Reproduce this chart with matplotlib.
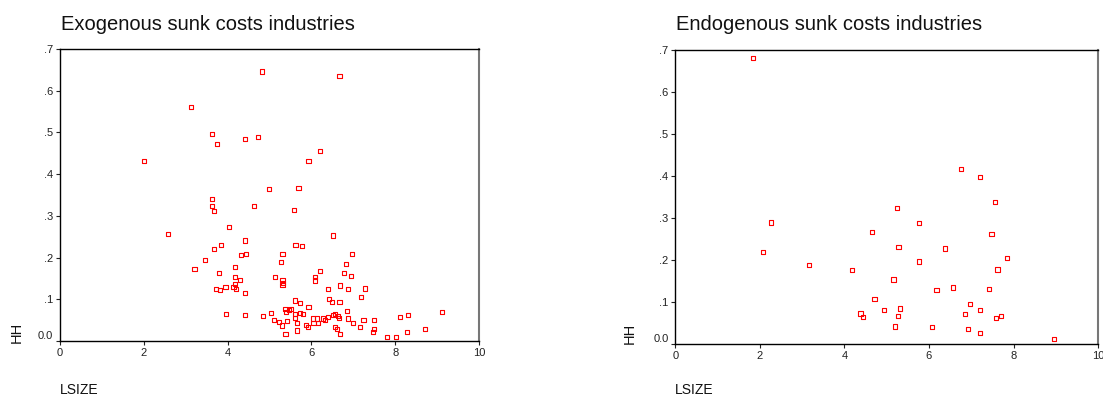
import matplotlib
matplotlib.use("Agg")
import matplotlib.pyplot as plt
import matplotlib.transforms as mtransforms

# ------------------------------------------------------------
# Dados (LSIZE x HH)
# ------------------------------------------------------------
exo_lsize = [
    4.81, 6.67, 3.13, 3.62, 3.75, 4.42, 4.73, 6.21, 2.00, 5.93,
    4.99, 5.69, 3.62, 3.62, 3.67, 4.63, 5.58, 2.57, 4.03, 6.51,
    4.41, 3.68, 3.85, 5.62, 5.77, 4.32, 4.43, 5.31, 6.96, 3.46,
    5.27, 3.21, 4.18, 6.82, 3.79, 6.21, 6.78, 4.18, 5.13, 6.08,
    6.94, 4.30, 5.31, 6.08, 5.32, 5.31, 4.18, 4.14, 3.95, 4.20,
    3.72, 3.81, 4.41, 6.39, 6.69, 6.88, 7.28, 7.19, 6.41, 6.49,
    6.67, 5.60, 5.73, 5.93, 6.84, 9.11, 3.97, 4.41, 4.84, 5.03,
    5.38, 5.52, 5.46, 5.39, 5.60, 5.73, 5.79, 5.60, 6.04, 6.14,
    6.28, 6.32, 6.39, 6.52, 6.57, 6.63, 6.65, 6.88, 7.00, 7.24,
    7.50, 8.11, 8.31, 5.11, 5.23, 5.42, 5.66, 6.05, 6.16, 5.29,
    5.87, 5.92, 6.57, 6.60, 7.15, 5.66, 5.38, 6.69, 7.50, 7.46,
    8.27, 8.70, 7.81, 8.02,
]
exo_hh = [
    0.646, 0.635, 0.561, 0.497, 0.472, 0.484, 0.489, 0.455, 0.432, 0.431,
    0.364, 0.366, 0.340, 0.323, 0.311, 0.323, 0.314, 0.257, 0.273, 0.253,
    0.241, 0.221, 0.230, 0.230, 0.228, 0.207, 0.209, 0.209, 0.209, 0.195,
    0.190, 0.173, 0.178, 0.185, 0.164, 0.168, 0.164, 0.153, 0.153, 0.153,
    0.155, 0.147, 0.147, 0.145, 0.140, 0.134, 0.137, 0.130, 0.130, 0.124,
    0.124, 0.122, 0.116, 0.124, 0.133, 0.124, 0.126, 0.105, 0.101, 0.093,
    0.093, 0.097, 0.091, 0.082, 0.072, 0.070, 0.064, 0.062, 0.060, 0.068,
    0.077, 0.077, 0.074, 0.070, 0.065, 0.067, 0.065, 0.055, 0.054, 0.054,
    0.054, 0.050, 0.058, 0.062, 0.065, 0.060, 0.055, 0.054, 0.043, 0.051,
    0.050, 0.058, 0.062, 0.050, 0.046, 0.047, 0.043, 0.043, 0.043, 0.037,
    0.039, 0.034, 0.034, 0.029, 0.033, 0.025, 0.017, 0.017, 0.029, 0.021,
    0.021, 0.029, 0.009, 0.009,
]

endo_lsize = [
    1.84, 6.75, 7.20, 7.56, 5.24, 2.27, 5.77, 4.66, 7.48, 5.28,
    6.38, 2.07, 5.76, 7.85, 3.17, 4.17, 7.62, 5.16, 6.56, 6.18,
    7.43, 4.71, 6.97, 5.32, 4.93, 7.20, 4.38, 4.44, 5.26, 6.85,
    7.59, 7.70, 5.20, 6.07, 6.93, 7.20, 8.96,
]
endo_hh = [
    0.680, 0.416, 0.397, 0.337, 0.323, 0.289, 0.288, 0.267, 0.261, 0.230,
    0.227, 0.219, 0.196, 0.205, 0.188, 0.176, 0.177, 0.153, 0.134, 0.128,
    0.130, 0.107, 0.095, 0.084, 0.080, 0.080, 0.072, 0.064, 0.066, 0.070,
    0.062, 0.066, 0.041, 0.039, 0.035, 0.025, 0.012,
]

titulos = ["Exogenous sunk costs industries", "Endogenous sunk costs industries"]
y_ticks = [0.0, 0.1, 0.2, 0.3, 0.4, 0.5, 0.6, 0.7]
y_labels = ["0.0", ".1", ".2", ".3", ".4", ".5", ".6", ".7"]
x_ticks = [0, 2, 4, 6, 8, 10]

plt.rcParams["font.family"] = ["Liberation Sans", "DejaVu Sans"]

fig = plt.figure(figsize=(11.03, 4.0), dpi=100)

# posicoes dos paineis (fracao da figura)
posicoes = [
    [0.0544, 0.1475, 0.3800, 0.7300],
    [0.6123, 0.1408, 0.3832, 0.7342],
]
dados = [(exo_lsize, exo_hh), (endo_lsize, endo_hh)]
label_x = [(0.0155, 0.17), (0.571, 0.167)]

for i, (pos, (xs, ys)) in enumerate(zip(posicoes, dados)):
    ax = fig.add_axes(pos)
    ax.scatter(xs, ys, marker="s", s=9, facecolors="none",
               edgecolors="#ff0000", linewidths=0.8, zorder=3)

    ax.set_xlim(0, 10)
    ax.set_ylim(0, 0.7)
    ax.set_xticks(x_ticks)
    ax.set_yticks(y_ticks)
    ax.set_yticklabels(y_labels)
    ax.tick_params(direction="out", length=3, width=0.8, labelsize=8,
                   colors="#222222", pad=2)

    # o rotulo 0.0 fica um pouco acima da linha base, como no original
    lbl0 = ax.get_yticklabels()[0]
    lbl0.set_transform(lbl0.get_transform() +
                       mtransforms.ScaledTranslation(0, 4 / 72, fig.dpi_scale_trans))

    for lado in ["left", "bottom", "top"]:
        ax.spines[lado].set_color("black")
        ax.spines[lado].set_linewidth(1.0)
    ax.spines["right"].set_color("#777777")
    ax.spines["right"].set_linewidth(1.5)

    fig.text(pos[0] + 0.001, 0.925, titulos[i], fontsize=14.5,
             ha="left", va="baseline", color="#111111")
    fig.text(pos[0], 0.015, "LSIZE", fontsize=10, ha="left",
             va="baseline", color="#111111")
    fig.text(label_x[i][0], label_x[i][1], "HH", fontsize=10.5,
             rotation=90, ha="center", va="center", color="#111111")

plt.savefig("out.png", dpi=100)
plt.close()
